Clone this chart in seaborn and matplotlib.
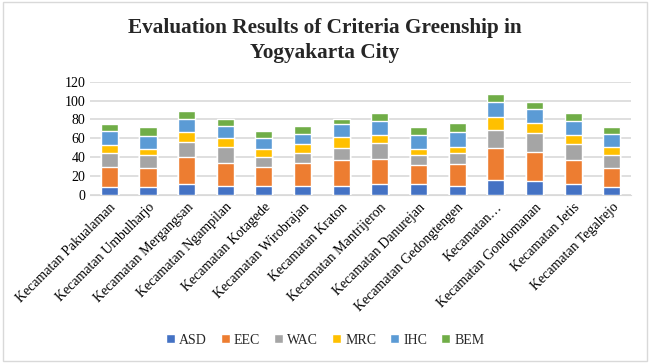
import pandas as pd
import numpy as np
import seaborn as sns
import matplotlib.pyplot as plt
from matplotlib.patches import Rectangle, Patch


districts = [
    "Kecamatan Pakualaman", "Kecamatan Umbulharjo", "Kecamatan Mergangsan",
    "Kecamatan Ngampilan", "Kecamatan Kotagede", "Kecamatan Wirobrajan",
    "Kecamatan Kraton", "Kecamatan Mantrijeron", "Kecamatan Danurejan",
    "Kecamatan Gedongtengen", "Kecamatan…", "Kecamatan Gondomanan",
    "Kecamatan Jetis", "Kecamatan Tegalrejo",
]
criteria = ["ASD", "EEC", "WAC", "MRC", "IHC", "BEM"]

asd = [8, 9, 12, 10, 10, 10, 10, 12, 12, 10, 16, 15, 12, 8]
eec = [22, 20, 28, 24, 20, 24, 27, 26, 20, 23, 34, 31, 25.5, 21]
wac = [15, 13, 16.5, 17, 10, 10, 13, 17, 10, 11, 19, 20, 16, 13.5]
mrc = [8, 7, 10, 9, 9, 10, 11, 9, 7, 7, 14, 10.5, 10, 8.5]
ihc = [15, 14, 14.5, 13, 11, 11, 14, 14.5, 15, 16, 16, 15, 15, 14]
bem = [7, 9, 8, 8, 8, 8, 6, 8.5, 8, 9, 8, 7.5, 8, 7.5]

colors = ["#4472C4", "#ED7D31", "#A5A5A5", "#FFC000", "#5B9BD5", "#70AD47"]

df = pd.DataFrame({"district": districts, "ASD": asd, "EEC": eec, "WAC": wac,
                   "MRC": mrc, "IHC": ihc, "BEM": bem})
cum = df[criteria].cumsum(axis=1)
cum["district"] = df["district"]

sns.set_style("white")
plt.rcParams["font.family"] = ["Liberation Serif", "DejaVu Serif"]

fig = plt.figure(figsize=(6.5, 3.63), dpi=100)
ax = fig.add_axes([0.1385, 0.4628, 0.8325, 0.3122])

# stacked bars: draw the running totals from the top series down
for name, col in reversed(list(zip(criteria, colors))):
    sns.barplot(data=cum, x="district", y=name, order=districts, color=col,
                width=0.44, saturation=1, ax=ax, zorder=3)

ax.set_ylim(0, 120)
ax.set_yticks(range(0, 121, 20))
ax.yaxis.grid(True, color="#d9d9d9", linewidth=1.2, zorder=0)
ax.set_axisbelow(True)
for s in ["top", "right", "left"]:
    ax.spines[s].set_visible(False)
ax.spines["bottom"].set_color("#d9d9d9")
ax.set_xlabel("")
ax.set_ylabel("")
ax.tick_params(axis="both", length=0, labelsize=10, colors="black")
ax.tick_params(axis="x", pad=4)
plt.setp(ax.get_xticklabels(), rotation=45, ha="right", rotation_mode="anchor")
ax.set_xlim(-0.5, len(districts) - 0.5)

fig.text(0.5, 0.888, "Evaluation Results of Criteria Greenship in\nYogyakarta City",
         ha="center", va="center", fontsize=15.3, fontweight="bold",
         linespacing=1.35)

handles = [Patch(facecolor=c, label=n) for n, c in zip(criteria, colors)]
fig.legend(handles=handles, loc="center", bbox_to_anchor=(0.5, 0.063), ncol=6,
           frameon=False, fontsize=10, handlelength=0.65, handleheight=0.65,
           handletextpad=0.3, columnspacing=1.0)

fig.patches.append(Rectangle((0.004, 0.006), 0.992, 0.988, transform=fig.transFigure,
                             fill=False, edgecolor="#d9d9d9", linewidth=1))

fig.savefig("out.png", dpi=100)
